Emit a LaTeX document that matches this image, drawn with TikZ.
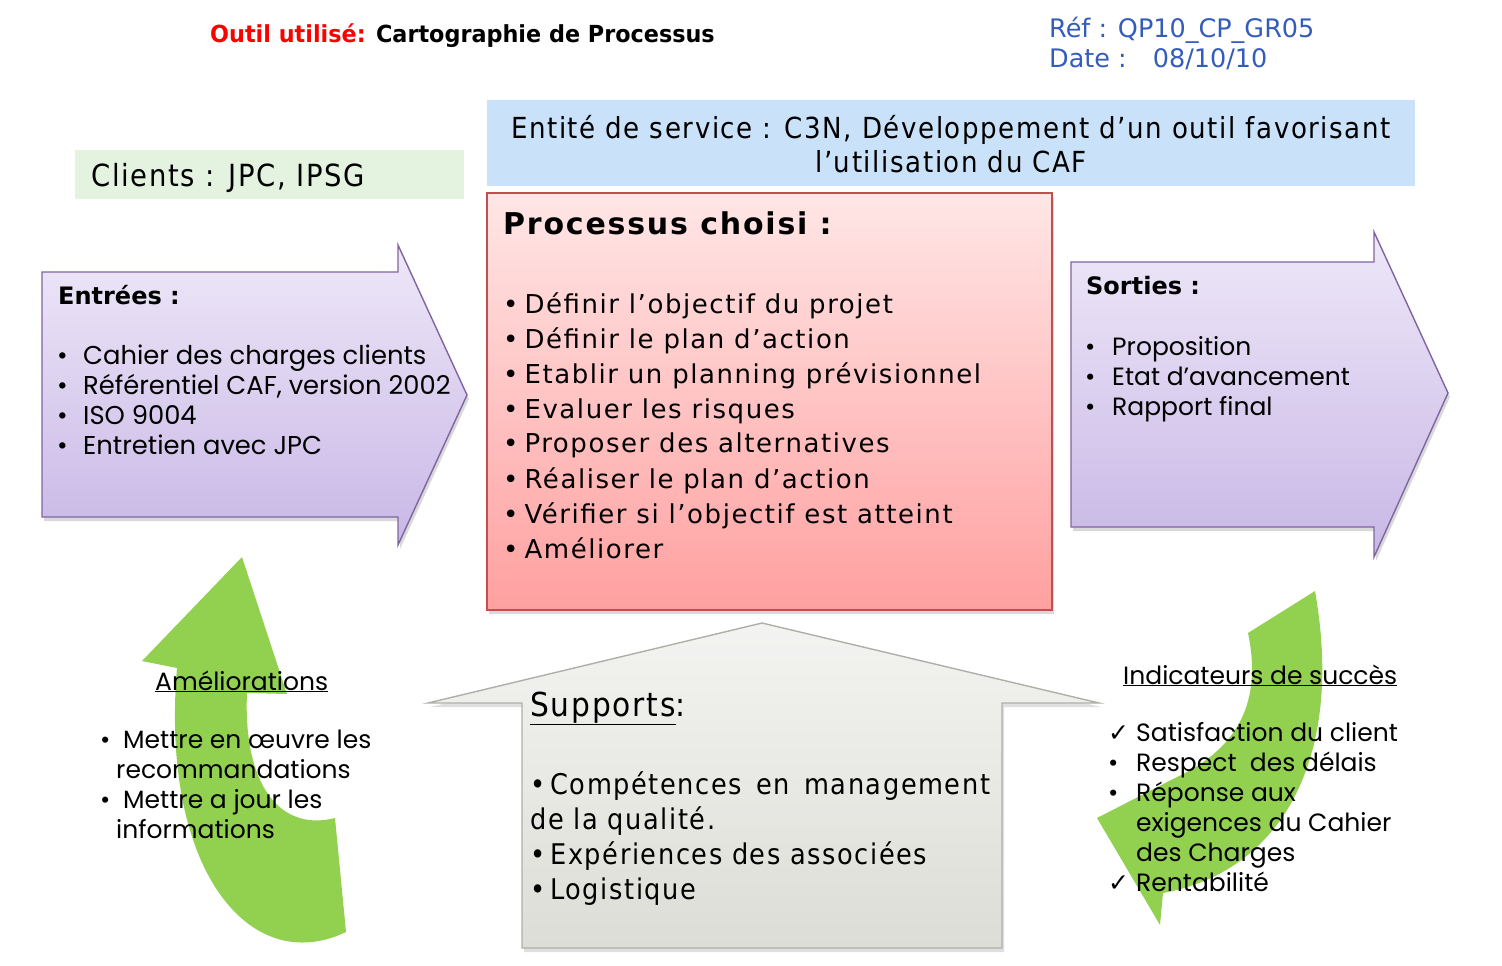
\documentclass[tikz,border=0pt]{standalone}
\usepackage{fontspec}
\setmainfont{DejaVu Sans}
\newfontfamily\titlefont[FakeStretch=0.95]{DejaVu Sans}
\newfontfamily\spacedfont[FakeStretch=0.9, LetterSpace=5.5]{DejaVu Sans}
\newfontfamily\procfont[LetterSpace=6]{DejaVu Sans}
\newfontfamily\geofont{Poppins}
\newfontfamily\checkfont{DejaVu Sans}
\usetikzlibrary{shadows}
\usetikzlibrary{positioning}

\definecolor{titlered}{RGB}{255,0,0}
\definecolor{refblue}{RGB}{52,92,186}
\definecolor{entitefill}{RGB}{201,226,249}
\definecolor{clientfill}{RGB}{228,242,224}
\definecolor{procline}{RGB}{192,80,77}
\definecolor{proctop}{RGB}{255,230,230}
\definecolor{procbot}{RGB}{255,160,160}
\definecolor{ioline}{RGB}{128,100,162}
\definecolor{iotop}{RGB}{238,232,248}
\definecolor{iobot}{RGB}{200,183,230}
\definecolor{suptop}{RGB}{243,243,241}
\definecolor{supbot}{RGB}{221,221,215}
\definecolor{supline}{RGB}{175,175,170}
\definecolor{loopgreen}{RGB}{146,208,80}

\newcommand{\fsz}[2]{\fontsize{#1}{#2}\selectfont}
\newcommand{\puce}[1]{\makebox[#1][l]{\textbullet}}

\begin{document}
\begin{tikzpicture}[x=1pt, y=-1pt]

	\useasboundingbox (0,0) rectangle (1502,966);

	\tikzset{
		iobox/.style={draw=ioline, line width=1.4pt, top color=iotop, bottom color=iobot,
			drop shadow={opacity=0.3, shadow xshift=2pt, shadow yshift=-4pt}},
		procbox/.style={draw=procline, line width=1.2pt, top color=proctop, bottom color=procbot,
			drop shadow={opacity=0.3, shadow xshift=2pt, shadow yshift=-4pt}},
		supbox/.style={draw=supline, line width=1.4pt, top color=suptop, bottom color=supbot,
			drop shadow={opacity=0.25, shadow xshift=2pt, shadow yshift=-4pt}},
		loopleaf/.style={fill=loopgreen, draw=none},
		txt/.style={inner sep=0pt, anchor=base west},
		lst/.style={inner sep=0pt, anchor=north west, align=left}
	}

	% --- header ---
	\node[txt, font=\titlefont\bfseries\fsz{23.5}{28}] (title) at (210,43)
		{\textcolor{titlered}{Outil utilisé:} Cartographie de Processus};
	\node[lst, font=\fsz{25.5}{30}, text=refblue] (ref) at (1049,17)
		{Réf : QP10\_CP\_GR05\\Date :\hspace{26pt}08/10/10};

	% --- entity and clients ---
	\fill[entitefill] (487,100) rectangle (1415,186);
	\node[inner sep=0pt, align=center, font=\spacedfont\fsz{29}{34}] (entite) at (951,144)
		{Entité de service : C3N, Développement d’un outil favorisant\\l’utilisation du CAF};
	\fill[clientfill] (75,150) rectangle (464,199);
	\node[txt, font=\spacedfont\fsz{30.5}{34}] (clients) at (91,186) {Clients : JPC, IPSG};

	% --- green loops (behind the text) ---
	\fill[loopleaf] (242,557) -- (287,694) -- (247,693)
		.. controls (243,785) and (280,832) .. (335,818) -- (346,932)
		.. controls (250,978) and (160,870) .. (177,668) -- (142,661) -- cycle;
	\fill[loopleaf] (1315,591) .. controls (1345,760) and (1280,872) .. (1163,893)
		-- (1160,925) -- (1097,818) -- (1175,778)
		.. controls (1240,748) and (1262,700) .. (1248,633) -- cycle;

	% --- inputs / outputs ---
	\draw[iobox] (42,272) -- (398,272) -- (398,245) -- (467,395) -- (398,545) -- (398,517) -- (42,517) -- cycle;
	\draw[iobox] (1071,262) -- (1374,262) -- (1374,232) -- (1448,393) -- (1374,557) -- (1374,527) -- (1071,527) -- cycle;

	% --- chosen process ---
	\draw[procbox] (487,193) rectangle (1052,610);

	% --- supports ---
	\draw[supbox] (522,948) -- (522,703) -- (428,703) -- (762,623) -- (1099,703) -- (1002,703) -- (1002,948) -- cycle;

	% --- texts ---
	\node[txt, font=\procfont\bfseries\fsz{30}{34}] (proctitle) at (503,234) {Processus choisi :};
	\node[lst, font=\procfont\fsz{26}{35}] (proclist) at (503,292)
		{\textbullet\hspace{6pt}Définir l’objectif du projet\\
		 \textbullet\hspace{6pt}Définir le plan d’action\\
		 \textbullet\hspace{6pt}Etablir un planning prévisionnel\\
		 \textbullet\hspace{6pt}Evaluer les risques\\
		 \textbullet\hspace{6pt}Proposer des alternatives\\
		 \textbullet\hspace{6pt}Réaliser le plan d’action\\
		 \textbullet\hspace{6pt}Vérifier si l’objectif est atteint\\
		 \textbullet\hspace{6pt}Améliorer};

	\node[txt, font=\bfseries\fsz{24}{28}] (intitle) at (58,304) {Entrées :};
	\node[lst, font=\geofont\fsz{25.8}{30}] (inlist) at (57,345)
		{\puce{26pt}Cahier des charges clients\\
		 \puce{26pt}Référentiel CAF, version 2002\\
		 \puce{26pt}ISO 9004\\
		 \puce{26pt}Entretien avec JPC};

	\node[txt, font=\bfseries\fsz{24}{28}] (outtitle) at (1086,294) {Sorties :};
	\node[lst, font=\geofont\fsz{25}{30}] (outlist) at (1085,336)
		{\puce{27pt}Proposition\\
		 \puce{27pt}Etat d’avancement\\
		 \puce{27pt}Rapport final};

	\node[txt, font=\spacedfont\fsz{33}{36}] (suptitle) at (530,716) {\underline{Supports}:};
	\node[lst, font=\spacedfont\fsz{28.5}{35}] (suplist) at (530,771)
		{\makebox[460pt][s]{\textbullet\hspace{5pt}Compétences en management}\\
		 de la qualité.\\
		 \textbullet\hspace{5pt}Expériences des associées\\
		 \textbullet\hspace{5pt}Logistique};

	\node[txt, font=\geofont\fsz{25}{30}] (amtitle) at (155,690) {\underline{Améliorations}};
	\node[lst, font=\geofont\fsz{25}{30}] (amlist) at (100,730)
		{\puce{23pt}Mettre en œuvre les\\
		 \hspace{16pt}recommandations\\
		 \puce{23pt}Mettre a jour les\\
		 \hspace{16pt}informations};

	\node[txt, font=\geofont\fsz{25}{30}] (indtitle) at (1123,684) {\underline{Indicateurs de succès}};
	\node[lst, font=\geofont\fsz{25}{30}] (indlist) at (1108,722)
		{\makebox[28pt][l]{\checkfont ✓}Satisfaction du client\\
		 \puce{28pt}Respect\ \ des délais\\
		 \puce{28pt}Réponse aux\\
		 \hspace{28pt}exigences du Cahier\\
		 \hspace{28pt}des Charges\\
		 \makebox[28pt][l]{\checkfont ✓}Rentabilité};

\end{tikzpicture}
\end{document}
